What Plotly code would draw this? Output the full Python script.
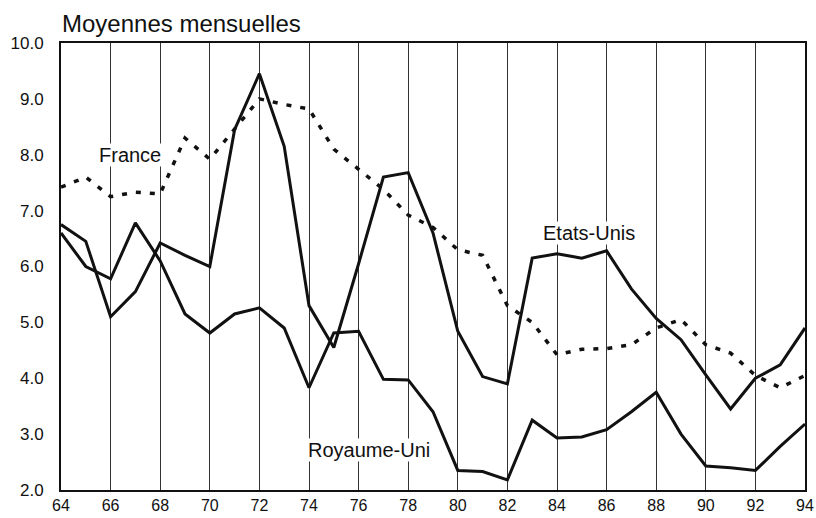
import plotly.graph_objects as go

years = list(range(1964, 1995))
tick_years = list(range(1964, 1995, 2))
tick_labels = [str(y)[2:] for y in tick_years]

etats_unis = [6.75, 6.45, 5.1, 5.55, 6.42, 6.2, 6.0, 8.45, 9.45, 8.15, 5.3, 4.55, 6.05, 7.6, 7.68, 6.6,
              4.84, 4.03, 3.9, 6.15, 6.23, 6.15, 6.28, 5.6, 5.07, 4.69, 4.06, 3.45, 4.0, 4.24, 4.9]
royaume_uni = [6.6, 6.0, 5.78, 6.78, 6.1, 5.15, 4.81, 5.15, 5.26, 4.9, 3.83, 4.81, 4.84, 3.98, 3.97, 3.4,
               2.35, 2.33, 2.18, 3.25, 2.93, 2.95, 3.08, 3.4, 3.75, 3.0, 2.43, 2.4, 2.35, 2.78, 3.18]
france = [7.42, 7.6, 7.25, 7.33, 7.3, 8.3, 7.92, 8.45, 9.0, 8.9, 8.82, 8.1, 7.75, 7.38, 6.92, 6.7,
          6.3, 6.2, 5.3, 5.0, 4.42, 4.52, 4.53, 4.6, 4.9, 5.05, 4.6, 4.45, 4.05, 3.83, 4.05]

y_ticks = [2, 3, 4, 5, 6, 7, 8, 9, 10]

FONT = "Liberation Sans, Arial, Helvetica, sans-serif"
INK = "#111111"

W, H = 816, 518

fig = go.Figure()
fig.add_trace(go.Scatter(x=years, y=etats_unis, mode="lines", name="Etats-Unis",
                         line=dict(color=INK, width=3)))
fig.add_trace(go.Scatter(x=years, y=royaume_uni, mode="lines", name="Royaume-Uni",
                         line=dict(color=INK, width=3)))
fig.add_trace(go.Scatter(x=years, y=france, mode="lines", name="France",
                         line=dict(color=INK, width=3.5, dash="5px,9px")))

labels = [("France", 1966.8, 8.0), ("Etats-Unis", 1985.3, 6.6), ("Royaume-Uni", 1976.4, 2.72)]
for txt, x, y in labels:
    fig.add_annotation(x=x, y=y, text=txt, showarrow=False,
                       font=dict(family=FONT, size=20, color=INK),
                       bgcolor="white", borderpad=0)

fig.update_layout(
    width=W, height=H,
    margin=dict(l=61, r=11, t=43, b=28, autoexpand=False),
    paper_bgcolor="white", plot_bgcolor="white",
    showlegend=False,
    title=dict(text="Moyennes mensuelles", x=62/W, xanchor="left",
               y=1 - 24/H, yanchor="middle",
               font=dict(family=FONT, size=24, color=INK)),
    font=dict(family=FONT, color=INK),
)
fig.update_xaxes(range=[1964, 1994], tickvals=tick_years, ticktext=tick_labels,
                 showgrid=True, gridcolor="#333333", gridwidth=1.2,
                 showline=True, linecolor=INK, linewidth=1.8, mirror=True,
                 ticks="", ticklabelstandoff=0, automargin=False,
                 tickfont=dict(size=16, family=FONT, color=INK),
                 zeroline=False)
fig.update_yaxes(range=[2, 10], tickvals=y_ticks, tickformat=".1f",
                 showgrid=False,
                 showline=True, linecolor=INK, linewidth=1.8, mirror=True,
                 ticks="", ticklabelstandoff=12, automargin=False,
                 tickfont=dict(size=17, family=FONT, color=INK),
                 zeroline=False)

fig.write_html(
    "out.html",
    config={"displayModeBar": False},
    post_script="document.body.style.margin='0';document.body.style.overflow='hidden';",
)
